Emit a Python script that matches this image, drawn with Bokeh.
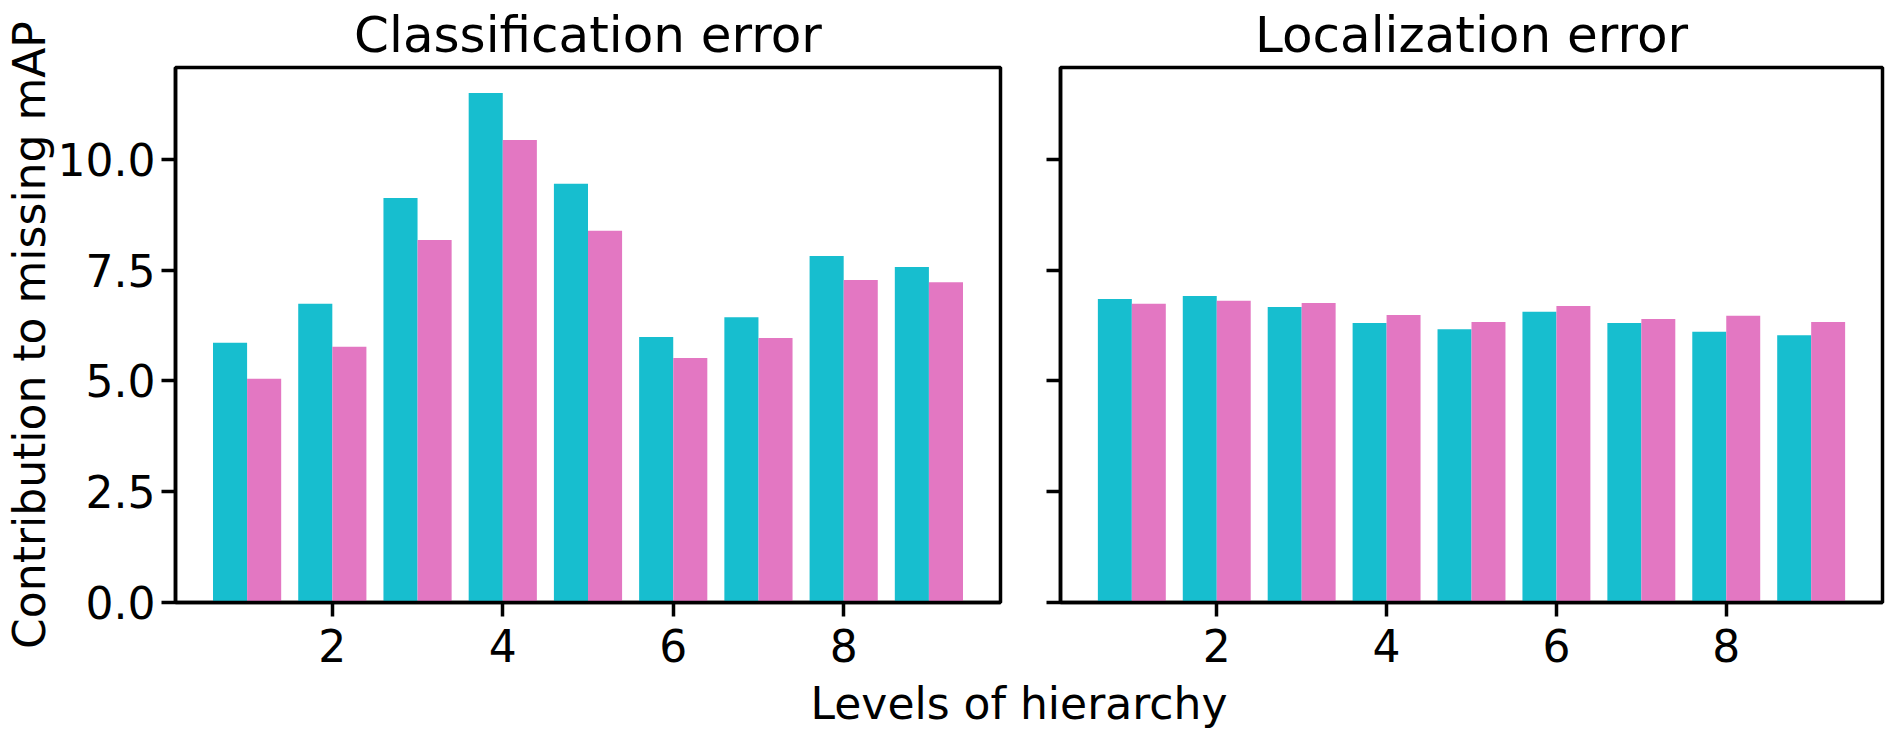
from bokeh.plotting import figure
from bokeh.layouts import row, column
from bokeh.models import FixedTicker, NumeralTickFormatter, CustomJSTickFormatter, Range1d, Div
from bokeh.embed import file_html
from bokeh.resources import INLINE

levels = [1, 2, 3, 4, 5, 6, 7, 8, 9]
cls_cyan = [5.86, 6.74, 9.13, 11.50, 9.45, 5.99, 6.44, 7.82, 7.57]
cls_pink = [5.05, 5.77, 8.18, 10.44, 8.39, 5.52, 5.97, 7.28, 7.23]
loc_cyan = [6.85, 6.92, 6.67, 6.31, 6.17, 6.56, 6.31, 6.11, 6.03]
loc_pink = [6.74, 6.81, 6.76, 6.49, 6.33, 6.69, 6.40, 6.47, 6.33]
y_ticks = [0, 2.5, 5.0, 7.5, 10.0]
x_ticks = [2, 4, 6, 8]
titles = ["Classification error", "Localization error"]
y_label = "Contribution to missing mAP"
x_label = "Levels of hierarchy"

CYAN = "#17becf"
PINK = "#e377c2"
FONT = "DejaVu Sans"
BAR_W = 0.4
LW = 3.5


def make(title, cyan, pink, first):
    p = figure(frame_width=825 if first else 822, frame_height=535,
               output_backend="svg", toolbar_location=None,
               x_range=Range1d(0.16, 9.84), y_range=Range1d(0, 12.075),
               min_border_left=163 if first else 29,
               min_border_right=31 if first else 4,
               min_border_top=0, min_border_bottom=82)
    p.vbar(x=[v - BAR_W / 2 for v in levels], top=cyan, width=BAR_W, bottom=0,
           fill_color=CYAN, line_color=None)
    p.vbar(x=[v + BAR_W / 2 for v in levels], top=pink, width=BAR_W, bottom=0,
           fill_color=PINK, line_color=None)
    p.title.text = title
    p.title.align = "center"
    p.title.text_font = FONT
    p.title.text_font_size = "50px"
    p.title.text_font_style = "normal"
    p.title.text_color = "black"
    p.title.standoff = 7
    p.grid.visible = False
    p.outline_line_color = "black"
    p.outline_line_width = LW
    p.outline_line_alpha = 1.0
    for ax in (p.xaxis[0], p.yaxis[0]):
        ax.axis_line_color = "black"
        ax.axis_line_width = LW
        ax.major_tick_line_color = "black"
        ax.major_tick_line_width = LW
        ax.major_tick_out = 14
        ax.major_tick_in = 0
        ax.minor_tick_line_color = None
        ax.major_label_text_font = FONT
        ax.major_label_text_font_size = "44px"
        ax.major_label_text_color = "black"
        ax.axis_label_text_font = FONT
        ax.axis_label_text_font_size = "44px"
        ax.axis_label_text_font_style = "normal"
        ax.axis_label_text_color = "black"
    p.xaxis.ticker = FixedTicker(ticks=x_ticks)
    p.xaxis.major_label_standoff = 12
    p.yaxis.ticker = FixedTicker(ticks=y_ticks)
    if first:
        p.yaxis.formatter = NumeralTickFormatter(format="0.0")
        p.yaxis.major_label_standoff = 6
        p.yaxis.axis_label = y_label
        p.yaxis.axis_label_standoff = 0
    else:
        p.yaxis.formatter = CustomJSTickFormatter(code="return '';")
        p.yaxis.major_label_standoff = 0
    return p


p1 = make(titles[0], cls_cyan, cls_pink, True)
p2 = make(titles[1], loc_cyan, loc_pink, False)

xl = Div(text=('<div style="margin-left:160px;width:1718px;text-align:center;'
               'font-family:\'DejaVu Sans\';font-size:44px;line-height:40px;color:black;">'
               + x_label + '</div>'),
         width=1878, height=40, margin=(0, 0, 0, 0))

layout = column(row(p1, p2, spacing=0), xl, spacing=0)

open("out.html", "w").write(file_html(layout, INLINE))
